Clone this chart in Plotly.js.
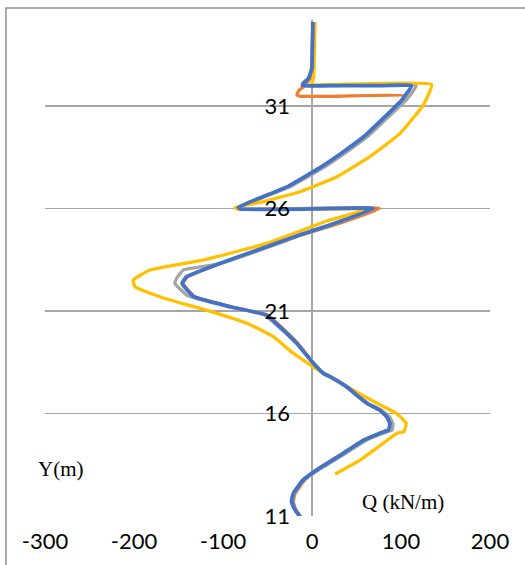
<!DOCTYPE html>
<html>
<head>
<meta charset="utf-8">
<script src="https://cdn.plot.ly/plotly-3.0.1.min.js"></script>
<style>
  html, body { margin: 0; padding: 0; background: #ffffff; }
  #chart { width: 525px; height: 565px; }
</style>
</head>
<body>
<div id="chart"></div>
<script>
// Shear force Q (kN/m) against elevation Y (m), four cases.
const qOrange = [1, 0.5, -0.3, -3, -8, -15, -17, -14, 30, 104.5, 98, 80, 58, 33, 9, -28, -55, -83, -80, 76, 22, -13, -49, -102, -140, -145, -132, -91, -50, -35, -16, 2, 13, 20.5, 39, 62, 76.5, 84.5, 88, 86.5, 80.5, 58, 35, 5, -8, -19, -21, -18, -13];
const yOrange = [35.1, 34.0, 32.8, 32.3, 32.0, 31.75, 31.55, 31.48, 31.48, 31.5, 31.1, 30.35, 29.45, 28.65, 27.98, 27.04, 26.56, 26.05, 25.97, 26.0, 25.15, 24.7, 24.14, 23.33, 22.67, 22.35, 21.7, 21.21, 20.8, 20.23, 19.42, 18.45, 17.96, 17.8, 17.3, 16.5, 16.17, 15.84, 15.5, 15.2, 15.1, 14.7, 14.06, 13.24, 12.76, 12.1, 11.7, 11.29, 10.97];

const qGray = [1, 0.5, -0.3, -4, -10, -10.5, 117, 106, 84, 62, 37, 13, -25, -53, -82, -80, 70, 22, -13, -50, -105, -144.6, -152, -154, -140, -97, -55, -38, -17, 2, 13, 21, 40, 63, 78, 87, 91, 90, 84, 61, 38, 7, -9, -20, -22, -18, -13];
const yGray = [35.1, 34.0, 32.8, 32.35, 32.1, 32.0, 32.0, 31.3, 30.4, 29.5, 28.7, 28.0, 27.06, 26.58, 26.06, 25.98, 26.0, 25.2, 24.7, 24.1, 23.3, 23.0, 22.6, 22.35, 21.75, 21.25, 20.85, 20.25, 19.42, 18.45, 17.96, 17.8, 17.3, 16.5, 16.17, 15.84, 15.5, 15.2, 15.1, 14.7, 14.06, 13.24, 12.76, 12.1, 11.7, 11.29, 10.97];

const qYellow = [3.4, 2.6, 1.7, -0.3, 0, 134.5, 125, 99, 65, 28, -13.5, -55, -86.5, -84, 62, 20, -51, -122, -182, -201, -199, -171, -140, -115, -73, -43.5, -21, 1.5, 20, 46, 73, 95, 106, 103, 95, 80, 54, 26];
const yYellow = [35.1, 33.2, 32.37, 32.1, 32.05, 32.05, 31.05, 29.67, 28.53, 27.55, 26.82, 26.33, 26.06, 25.97, 25.97, 25.44, 24.3, 23.49, 23.0, 22.51, 22.19, 21.7, 21.3, 21.0, 20.4, 19.75, 18.94, 18.28, 17.8, 17.15, 16.5, 16.0, 15.52, 15.11, 15.03, 14.55, 13.73, 13.05];

const qBlue = [1, 0.5, -0.3, -4, -10, -10.5, 30, 80, 112, 101, 80, 58, 33, 9, -28, -55, -83, -80, 0, 69, 20, -15, -51, -103, -141, -146, -133, -92, -51, -36, -17, 1.5, 12.7, 20, 39, 61.5, 76, 84, 87.6, 86, 80, 58, 35, 5, -10, -21, -23, -19, -13.5];
const yBlue = [35.1, 34.0, 32.8, 32.35, 32.1, 32.0, 32.0, 32.0, 32.0, 31.3, 30.4, 29.5, 28.7, 28.0, 27.06, 26.58, 26.06, 25.98, 25.98, 26.0, 25.2, 24.7, 24.14, 23.33, 22.67, 22.35, 21.7, 21.21, 20.8, 20.23, 19.42, 18.45, 17.96, 17.8, 17.3, 16.5, 16.17, 15.84, 15.5, 15.2, 15.1, 14.7, 14.06, 13.24, 12.76, 12.1, 11.7, 11.29, 10.97];

const xTicks = [-300, -200, -100, 0, 100, 200];
const yTicks = [11, 16, 21, 26, 31];

function series(q, y, color, width) {
  return {
    type: 'scatter', mode: 'lines', x: q, y: y,
    line: { color: color, width: width, shape: 'spline', smoothing: 0.35 },
    hoverinfo: 'skip', showlegend: false, cliponaxis: false
  };
}

const traces = [
  series(qOrange, yOrange, '#ED7D31', 3.3),
  series(qGray, yGray, '#A5A5A5', 3.3),
  series(qYellow, yYellow, '#FFC000', 3.3),
  series(qBlue, yBlue, '#4472C4', 3.8)
];

const tickFont = { family: 'Lato, "Liberation Sans", sans-serif', size: 22, color: '#000000' };
const serif = { family: '"Liberation Serif", "DejaVu Serif", serif', size: 21, color: '#000000' };

const layout = {
  width: 525, height: 565,
  margin: { l: 45, r: 35, t: 20, b: 49, pad: 0 },
  paper_bgcolor: '#ffffff', plot_bgcolor: '#ffffff',
  showlegend: false,
  xaxis: {
    range: [-300, 200], tickvals: xTicks, ticktext: xTicks.map(String),
    showgrid: false, zeroline: true, zerolinecolor: '#a6a6a6', zerolinewidth: 1.3,
    showline: false, ticks: '', tickfont: tickFont, ticklabelstandoff: 10,
    fixedrange: true
  },
  yaxis: {
    range: [11, 35.2], tickvals: yTicks, ticktext: yTicks.map(String),
    anchor: 'free', position: 0.6, side: 'left',
    showgrid: true, gridcolor: '#a6a6a6', gridwidth: 1.3,
    zeroline: false, showline: false, ticks: '', tickfont: tickFont,
    ticklabelstandoff: 22, fixedrange: true
  },
  annotations: [
    { text: 'Y(m)', xref: 'paper', yref: 'paper', x: (61 - 45) / 445, y: (516 - 469) / 496,
      xanchor: 'center', yanchor: 'middle', showarrow: false, font: serif },
    { text: 'Q (kN/m)', xref: 'paper', yref: 'paper', x: (403 - 45) / 445, y: (516 - 502) / 496,
      xanchor: 'center', yanchor: 'middle', showarrow: false, font: serif }
  ],
  shapes: [
    { type: 'rect', xref: 'paper', yref: 'paper',
      x0: (6 - 45) / 445, x1: 2, y0: -1, y1: (516 - 8) / 496,
      line: { color: '#8f8f8f', width: 1.5 }, fillcolor: 'rgba(0,0,0,0)', layer: 'below' }
  ]
};

Plotly.newPlot('chart', traces, layout, { staticPlot: true, displayModeBar: false });
</script>
</body>
</html>
